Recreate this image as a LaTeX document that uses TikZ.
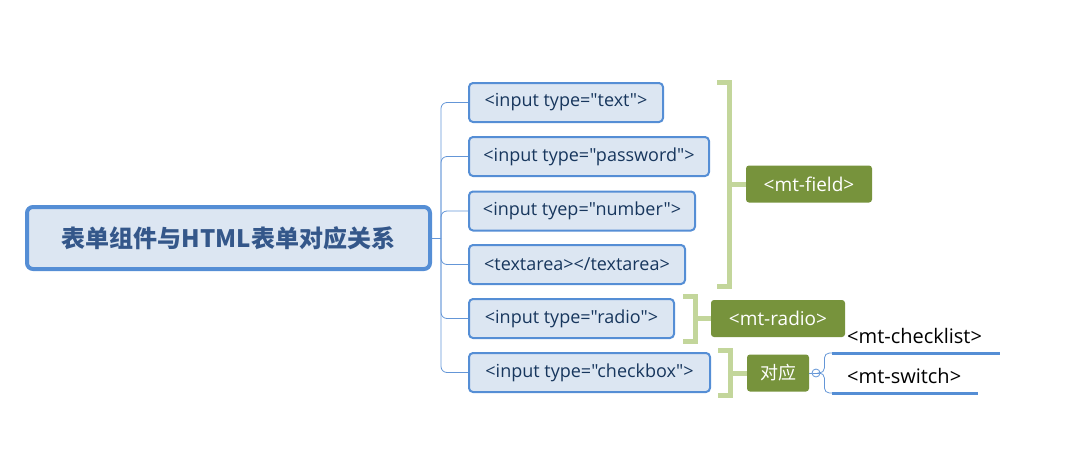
\documentclass[tikz,border=0pt]{standalone}
\usepackage{fontspec}
\setmainfont{Open Sans}[Ligatures=TeXOff]
\newfontfamily\cjkfont{Noto Sans CJK SC}
\definecolor{rootblue}{RGB}{85,142,213}
\definecolor{boxfill}{RGB}{220,230,242}
\definecolor{roottext}{RGB}{52,87,138}
\definecolor{childtext}{RGB}{23,54,93}
\definecolor{tagolive}{RGB}{119,147,60}
\definecolor{bracegreen}{RGB}{195,214,155}
\definecolor{linkblue}{RGB}{100,150,215}
\tikzset{
 rootbox/.style={draw=rootblue, line width=4, fill=boxfill, rounded corners=6,
   minimum width=403, minimum height=62,
   font=\cjkfont\bfseries\fontsize{24}{28}\selectfont, text=roottext},
 childbox/.style={draw=rootblue, line width=2, fill=boxfill, rounded corners=4,
   minimum height=39, anchor=west, font=\fontsize{18}{20}\selectfont, text=childtext},
 tagbox/.style={fill=tagolive, rounded corners=3, text=white, minimum height=37,
   font=\fontsize{19}{20}\selectfont},
 brace/.style={draw=bracegreen, line width=5},
 link/.style={draw=linkblue, line width=0.8},
 subtopic/.style={inner xsep=0, minimum height=34, anchor=west,
   font=\fontsize{20}{22}\selectfont},
 subline/.style={draw=rootblue, line width=3},
}
\begin{document}
\begin{tikzpicture}[x=1pt, y=-1pt]
    \useasboundingbox (0,0) rectangle (1087,461);

    % main topic
    \node[rootbox] (root) at (228.5, 238) {表单组件与HTML表单对应关系};
    \coordinate (hub) at (441, 238);
    \draw[link] (root.east) -- (hub);

    % html elements
    \node[childbox, minimum width=194] (c1) at (468, 102.5) {<input type="text">};
    \node[childbox, minimum width=240] (c2) at (468, 156.5) {<input type="password">};
    \node[childbox, minimum width=226] (c3) at (468, 211) {<input tyep="number">};
    \node[childbox, minimum width=216] (c4) at (468, 264.5) {<textarea></textarea>};
    \node[childbox, minimum width=205] (c5) at (468, 318.5) {<input type="radio">};
    \node[childbox, minimum width=241] (c6) at (468, 372.5) {<input type="checkbox">};
    \foreach \i in {1,...,6} {
        \draw[link, rounded corners=6] (hub) |- (c\i.west);
    }

    % components
    \node[tagbox, minimum width=126] (field) at (809, 184) {<mt-field>};
    \node[tagbox, minimum width=134] (radio) at (778, 318.5) {<mt-radio>};
    \node[tagbox, minimum width=62, font=\cjkfont\fontsize{18}{20}\selectfont] (dy) at (778, 373) {对应};

    \draw[brace] (717, 82) -- (729, 82) -- (729, 286) -- (717, 286);
    \draw[brace] (729, 184) -- (field.west);
    \draw[brace] (683, 296) -- (695, 296) -- (695, 341) -- (683, 341);
    \draw[brace] (695, 318.5) -- (radio.west);
    \draw[brace] (718, 350) -- (730, 350) -- (730, 395) -- (718, 395);
    \draw[brace] (730, 373) -- (dy.west);

    % checkbox alternatives
    \node[circle, draw=linkblue, fill=white, line width=0.8, inner sep=0, minimum size=8] (fold) at (816, 373) {};
    \draw[linkblue, line width=0.8] ([xshift=1.8]fold.west) -- ([xshift=-1.8]fold.east);
    \draw[link] (dy.east) -- (fold.west);

    \node[subtopic] (chk) at (847, 336) {<mt-checklist>};
    \node[subtopic] (sw) at (847, 376) {<mt-switch>};
    \draw[subline] (832, 353) -- (1000, 353);
    \draw[subline] (832, 393) -- (978, 393);
    \draw[link, rounded corners=5] (fold.east) -- ++(4, 0) |- (832, 353);
    \draw[link, rounded corners=5] (fold.east) -- ++(4, 0) |- (832, 393);
\end{tikzpicture}
\end{document}
